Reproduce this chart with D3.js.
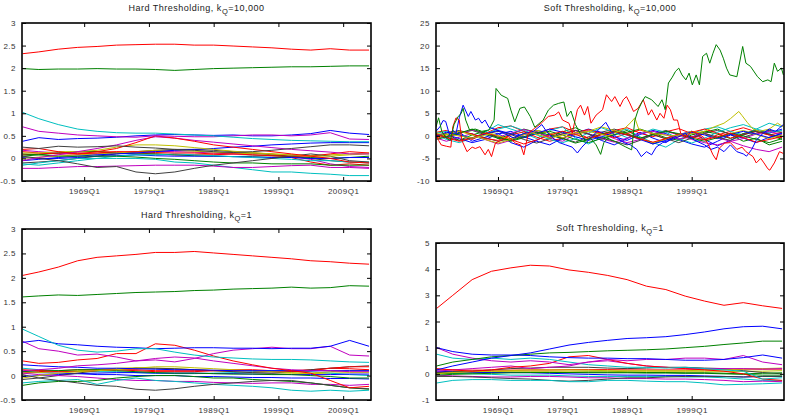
<!DOCTYPE html>
<html><head><meta charset="utf-8">
<script src="https://cdn.jsdelivr.net/npm/d3@7"></script>
<style>
html,body{margin:0;padding:0;background:#fff;}
svg{display:block;font-family:"Liberation Sans",Arial,sans-serif;}
</style></head>
<body><svg id="chart" width="789" height="418"></svg>
<script>
// ---------------- DATA ----------------
const quarterLabels = ["1969Q1","1979Q1","1989Q1","1999Q1","2009Q1"];
const quarterYears  = [1969, 1979, 1989, 1999, 2009];
const hardYTicks = [-0.5, 0, 0.5, 1, 1.5, 2, 2.5, 3];
const soft1e4YTicks = [-10, -5, 0, 5, 10, 15, 20, 25];
const soft1YTicks = [-1, 0, 1, 2, 3, 4, 5];

// 3-year sampling grid used by the smooth panels
const grid3 = [1959.5,1962,1965,1968,1971,1974,1977,1980,1983,1986,1989,1992,1995,1998,2001,2004,2007,2010,2013];
// 2-year sampling grid used by the background lines of the soft k=10,000 panel
const grid2 = [1959.5,1961,1963,1965,1967,1969,1971,1973,1975,1977,1979,1981,1983,1985,1987,1989,1991,1993,1995,1997,1999,2001,2003,2005,2007,2009,2011,2013];

// Panel 1: Hard Thresholding, kQ = 10,000
const hard1e4Colors = "rgcmbkrmykmcgbrcybgkmr";
const hard1e4 = [
 [2.32,2.36,2.42,2.46,2.48,2.51,2.52,2.53,2.53,2.51,2.51,2.49,2.47,2.45,2.42,2.40,2.43,2.40,2.40],
 [1.99,1.97,1.98,1.98,1.99,1.98,1.98,1.97,1.95,1.97,1.99,2.00,2.01,2.02,2.03,2.03,2.04,2.05,2.05],
 [1.02,0.88,0.75,0.65,0.60,0.57,0.56,0.56,0.54,0.52,0.50,0.47,0.44,0.42,0.40,0.39,0.38,0.37,0.37],
 [0.70,0.60,0.56,0.52,0.50,0.48,0.47,0.50,0.49,0.48,0.48,0.50,0.52,0.52,0.50,0.52,0.57,0.43,0.42],
 [0.38,0.46,0.42,0.44,0.45,0.47,0.50,0.52,0.53,0.52,0.51,0.52,0.50,0.50,0.52,0.55,0.62,0.56,0.53],
 [0.25,0.22,0.27,0.25,0.26,0.28,0.25,0.23,0.20,0.18,0.15,0.13,0.15,0.18,0.22,0.26,0.30,0.30,0.28],
 [0.20,0.22,0.15,0.10,0.15,0.22,0.35,0.50,0.45,0.38,0.30,0.25,0.20,0.15,0.10,0.05,0.00,-0.08,-0.10],
 [-0.05,0.02,0.08,0.15,0.22,0.30,0.40,0.48,0.45,0.40,0.36,0.32,0.28,0.24,0.20,0.17,0.14,0.10,0.10],
 [0.12,0.12,0.15,0.15,0.18,0.25,0.30,0.30,0.28,0.24,0.20,0.16,0.13,0.10,0.08,0.05,0.05,0.08,0.10],
 [0.05,0.00,-0.05,-0.12,-0.20,-0.18,-0.30,-0.34,-0.30,-0.22,-0.15,-0.10,-0.05,0.00,0.05,0.10,0.05,-0.05,-0.08],
 [-0.22,-0.22,-0.20,-0.18,-0.18,-0.17,-0.16,-0.15,-0.15,-0.15,-0.17,-0.20,-0.20,-0.18,-0.16,-0.15,-0.20,-0.20,-0.22],
 [-0.15,-0.10,-0.05,0.00,0.00,0.00,0.00,-0.02,-0.08,-0.10,-0.15,-0.20,-0.25,-0.30,-0.30,-0.33,-0.35,-0.38,-0.38],
 [0.10,0.08,0.05,0.05,0.05,0.05,0.03,0.00,-0.02,-0.05,-0.08,-0.10,-0.10,-0.12,-0.12,-0.12,-0.15,-0.15,-0.15],
 [-0.05,-0.02,0.02,0.05,0.08,0.10,0.12,0.15,0.18,0.20,0.22,0.25,0.27,0.30,0.32,0.34,0.35,0.35,0.35],
 [0.15,0.12,0.10,0.10,0.12,0.15,0.15,0.13,0.12,0.12,0.10,0.10,0.08,0.06,0.05,0.05,0.10,0.15,0.12],
 [-0.12,-0.15,-0.10,-0.05,0.00,0.05,0.08,0.08,0.10,0.08,0.06,0.04,0.02,0.00,-0.02,-0.05,-0.05,-0.08,-0.08],
 [0.00,0.03,0.05,0.08,0.10,0.12,0.15,0.18,0.18,0.16,0.14,0.12,0.10,0.10,0.08,0.06,0.08,0.10,0.12],
 [0.02,0.00,0.00,0.02,0.05,0.06,0.08,0.06,0.05,0.05,0.05,0.04,0.03,0.02,0.02,0.00,0.00,0.02,0.02],
 [0.05,0.08,0.12,0.15,0.15,0.12,0.10,0.10,0.08,0.06,0.05,0.04,0.05,0.06,0.04,0.02,0.00,0.02,0.05],
 [-0.10,-0.08,-0.05,0.00,0.05,0.10,0.15,0.18,0.20,0.20,0.18,0.15,0.12,0.08,0.05,0.00,-0.05,-0.08,-0.10],
 [0.18,0.15,0.12,0.10,0.10,0.12,0.14,0.16,0.15,0.14,0.12,0.10,0.08,0.06,0.04,-0.02,-0.12,-0.18,-0.20],
 [0.08,0.10,0.12,0.14,0.15,0.14,0.12,0.10,0.08,0.08,0.08,0.10,0.12,0.10,0.02,-0.08,-0.15,-0.12,-0.15]
];

// Panel 3: Hard Thresholding, kQ = 1
const hard1Colors = "rgcbmrmbkcgymrgkbcyrb";
const hard1 = [
 [2.05,2.12,2.22,2.35,2.42,2.45,2.48,2.52,2.52,2.54,2.51,2.48,2.45,2.42,2.39,2.35,2.33,2.30,2.28],
 [1.61,1.63,1.65,1.64,1.66,1.68,1.70,1.71,1.72,1.74,1.75,1.77,1.78,1.79,1.81,1.79,1.80,1.84,1.83],
 [0.95,0.80,0.62,0.52,0.48,0.50,0.55,0.55,0.48,0.42,0.38,0.36,0.34,0.33,0.33,0.32,0.30,0.28,0.27],
 [0.68,0.72,0.65,0.63,0.60,0.58,0.57,0.55,0.56,0.57,0.57,0.56,0.56,0.55,0.56,0.56,0.60,0.72,0.60],
 [0.70,0.55,0.50,0.42,0.44,0.38,0.30,0.32,0.28,0.35,0.45,0.52,0.55,0.58,0.55,0.55,0.60,0.42,0.40],
 [0.30,0.25,0.27,0.32,0.35,0.45,0.45,0.65,0.62,0.52,0.40,0.30,0.22,0.15,0.10,0.05,-0.10,-0.25,-0.22],
 [0.10,0.12,0.15,0.20,0.22,0.25,0.30,0.35,0.38,0.36,0.30,0.25,0.20,0.15,0.12,0.10,0.10,0.08,0.08],
 [0.22,0.20,0.18,0.17,0.15,0.15,0.14,0.13,0.12,0.12,0.11,0.10,0.10,0.10,0.10,0.10,0.10,0.10,0.10],
 [0.02,-0.05,-0.10,-0.15,-0.20,-0.22,-0.28,-0.30,-0.27,-0.22,-0.18,-0.15,-0.12,-0.10,-0.10,-0.15,-0.20,-0.25,-0.27],
 [-0.15,-0.12,-0.10,-0.08,-0.18,-0.10,-0.05,-0.10,-0.12,-0.15,-0.18,-0.20,-0.22,-0.25,-0.30,-0.32,-0.30,-0.32,-0.30],
 [-0.20,-0.15,-0.12,-0.12,-0.10,-0.05,-0.02,0.00,0.00,-0.02,-0.05,-0.05,-0.08,-0.10,-0.12,-0.15,-0.20,-0.25,-0.28],
 [-0.05,0.00,0.05,0.08,0.10,0.12,0.15,0.18,0.18,0.16,0.14,0.12,0.10,0.08,0.06,0.05,0.08,0.10,0.10],
 [0.05,0.02,0.00,-0.02,-0.05,-0.08,-0.10,-0.10,-0.12,-0.12,-0.14,-0.15,-0.16,-0.15,-0.15,-0.18,-0.18,-0.20,-0.18],
 [0.12,0.10,0.08,0.08,0.10,0.12,0.12,0.10,0.10,0.10,0.10,0.10,0.10,0.08,0.08,0.10,0.15,0.18,0.18],
 [0.08,0.10,0.10,0.12,0.12,0.10,0.08,0.06,0.05,0.05,0.04,0.03,0.03,0.02,0.02,0.00,-0.02,-0.05,-0.05],
 [-0.08,-0.05,0.00,0.05,0.10,0.12,0.15,0.15,0.14,0.12,0.10,0.08,0.06,0.05,0.08,0.12,0.15,0.18,0.20],
 [-0.02,0.00,0.02,0.04,0.05,0.06,0.06,0.05,0.05,0.05,0.04,0.04,0.03,0.03,0.02,0.02,0.02,0.03,0.03],
 [0.15,0.12,0.10,0.08,0.08,0.08,0.06,0.05,0.04,0.04,0.05,0.06,0.08,0.10,0.10,0.08,0.05,0.02,0.00],
 [0.05,0.06,0.08,0.10,0.12,0.15,0.16,0.15,0.14,0.12,0.10,0.08,0.06,0.05,0.05,0.04,0.05,0.06,0.06],
 [0.05,0.08,0.10,0.12,0.12,0.12,0.10,0.08,0.08,0.08,0.10,0.12,0.12,0.10,0.10,0.12,0.15,0.14,0.12],
 [0.08,0.06,0.05,0.04,0.02,0.02,0.00,0.00,0.00,-0.02,-0.02,-0.03,-0.04,-0.04,-0.05,-0.05,-0.06,-0.06,-0.07]
];

// Panel 4: Soft Thresholding, kQ = 1
const soft1Colors = "rbgbmcrmckygkbrmygc";
const soft1 = [
 [2.50,3.00,3.60,3.92,4.05,4.15,4.12,3.97,3.88,3.76,3.60,3.35,3.22,2.97,2.78,2.62,2.72,2.60,2.50],
 [0.15,0.30,0.45,0.60,0.70,0.80,0.95,1.10,1.20,1.28,1.35,1.38,1.42,1.50,1.60,1.72,1.80,1.82,1.72],
 [0.30,0.45,0.55,0.65,0.70,0.75,0.80,0.82,0.85,0.88,0.90,0.92,0.95,1.00,1.05,1.12,1.18,1.25,1.25],
 [1.00,0.85,0.75,0.72,0.72,0.70,0.65,0.62,0.60,0.60,0.58,0.58,0.55,0.52,0.52,0.55,0.62,0.72,0.60],
 [1.00,0.75,0.60,0.50,0.45,0.50,0.45,0.35,0.45,0.55,0.50,0.55,0.55,0.60,0.60,0.55,0.70,0.45,0.35],
 [0.75,0.60,0.55,0.60,0.55,0.60,0.55,0.45,0.35,0.30,0.25,0.25,0.22,0.25,0.20,0.15,0.10,-0.20,-0.15],
 [0.20,0.15,0.10,0.15,0.25,0.30,0.40,0.65,0.70,0.55,0.40,0.30,0.25,0.20,0.15,0.10,0.00,-0.20,-0.25],
 [0.10,0.15,0.20,0.25,0.30,0.20,0.25,0.30,0.45,0.50,0.40,0.30,0.25,0.20,0.20,0.20,0.20,0.18,0.20],
 [-0.35,-0.25,-0.22,-0.22,-0.25,-0.25,-0.25,-0.30,-0.30,-0.25,-0.25,-0.28,-0.30,-0.30,-0.35,-0.42,-0.40,-0.38,-0.35],
 [-0.10,-0.10,-0.12,-0.15,-0.18,-0.20,-0.25,-0.28,-0.25,-0.20,-0.15,-0.15,-0.12,-0.10,-0.10,-0.10,-0.12,-0.10,-0.10],
 [0.00,0.05,0.08,0.10,0.12,0.15,0.15,0.15,0.14,0.12,0.12,0.12,0.12,0.12,0.14,0.15,0.18,0.20,0.22],
 [-0.05,-0.02,0.00,0.02,0.04,0.05,0.05,0.05,0.06,0.06,0.06,0.05,0.05,0.04,0.04,0.02,0.00,0.02,0.04],
 [0.05,0.08,0.10,0.15,0.20,0.22,0.25,0.25,0.25,0.22,0.20,0.22,0.25,0.25,0.22,0.20,0.12,0.05,0.00],
 [0.10,0.08,0.06,0.05,0.05,0.04,0.02,0.00,-0.02,-0.04,-0.05,-0.05,-0.06,-0.06,-0.08,-0.10,-0.12,-0.10,-0.10],
 [0.15,0.15,0.14,0.14,0.14,0.15,0.15,0.16,0.16,0.16,0.15,0.15,0.15,0.15,0.16,0.16,0.18,0.18,0.18],
 [-0.05,-0.08,-0.10,-0.12,-0.12,-0.10,-0.10,-0.12,-0.15,-0.15,-0.18,-0.18,-0.20,-0.20,-0.22,-0.25,-0.30,-0.28,-0.30],
 [0.05,0.06,0.08,0.08,0.10,0.10,0.10,0.10,0.10,0.10,0.08,0.08,0.08,0.08,0.08,0.08,0.10,0.10,0.12],
 [0.00,0.02,0.04,0.05,0.06,0.06,0.06,0.05,0.04,0.04,0.04,0.03,0.03,0.02,0.02,0.00,-0.02,-0.05,-0.05],
 [0.05,0.02,0.00,-0.02,-0.05,-0.05,-0.05,-0.08,-0.10,-0.10,-0.10,-0.10,-0.10,-0.12,-0.12,-0.15,-0.20,-0.25,-0.25]
];

// Panel 2: Soft Thresholding, kQ = 10,000 -- background lines on the 2-year grid
const soft1e4NoiseColors = "bgrcmkbgrcmykbgr";
const soft1e4Noise = [
 [0.5,-0.5,0.8,-1.2,-0.3,0.6,-1.5,-2.5,-1.0,0.5,-0.8,1.2,0.4,-1.0,-2.0,-0.6,0.8,-0.5,-1.5,0.3,1.0,-0.8,-2.2,-1.0,0.5,1.2,0.6,1.5],
 [-0.3,0.4,-1.0,0.2,1.0,-0.6,0.3,1.5,0.8,-0.4,0.9,1.8,0.5,-0.8,0.2,1.2,-0.5,-1.8,-0.6,0.4,-0.3,0.8,1.5,0.3,-1.2,-0.5,-2.0,-1.2],
 [0.8,1.2,0.2,-0.8,0.5,1.8,2.2,1.0,0.3,1.5,2.0,0.8,-0.5,0.4,1.2,1.8,0.6,-0.2,0.9,1.6,0.5,-0.8,0.2,1.0,1.8,0.9,0.2,0.8],
 [0.2,-0.8,-1.5,-0.5,0.8,2.5,1.5,0.6,-0.6,1.2,2.0,-0.5,-1.8,-0.4,0.8,1.5,-0.2,-1.5,-2.5,-0.8,0.5,1.5,2.0,1.0,0.2,1.5,2.8,2.0],
 [-0.5,-1.2,-0.3,0.5,-0.8,-1.8,-1.0,0.2,1.0,-0.5,-1.2,0.3,1.2,0.5,-0.6,-1.5,-0.8,0.4,1.0,0.2,-0.8,-1.5,-2.0,-1.2,-2.2,-3.0,-3.5,-2.5],
 [0.0,0.6,1.2,0.4,-0.4,-1.2,-0.6,0.5,1.2,0.6,-0.5,-1.4,-0.2,0.8,1.5,0.5,-0.6,0.4,1.2,0.3,-0.5,0.6,1.2,0.4,-0.3,0.6,1.2,0.8],
 [-0.2,0.3,-0.6,-1.5,-0.8,0.4,1.0,-0.2,-1.2,-2.0,-0.5,0.6,1.5,0.8,-0.2,-1.0,0.3,1.2,0.5,-0.8,-1.8,-2.5,-1.2,0.2,-0.5,-1.5,-0.3,0.5],
 [0.4,-0.2,0.6,1.2,0.3,-0.5,-1.2,-0.4,0.5,1.0,0.2,-0.8,-1.5,-0.6,0.3,0.8,1.5,0.6,-0.4,-1.0,0.2,1.0,0.4,-0.6,0.5,1.2,0.3,-0.8],
 [-0.6,0.2,1.0,0.4,-0.6,-1.0,0.2,0.9,-0.3,-1.2,-0.5,0.7,1.4,0.6,-0.4,0.5,1.3,0.4,-0.7,-0.2,0.8,1.5,0.6,-0.5,0.3,1.0,0.2,-0.4],
 [0.6,1.0,0.3,-0.5,0.4,1.5,2.2,1.2,0.2,-0.8,-1.5,-0.6,0.6,1.8,0.8,-0.4,0.4,1.5,0.8,-0.6,-1.6,-0.5,0.8,1.8,2.5,1.5,0.8,1.2],
 [0.2,-0.4,0.5,1.3,0.5,-0.3,0.6,1.4,0.8,-0.2,0.4,1.2,0.5,-0.6,-1.4,-0.5,0.5,1.0,0.2,-0.7,-0.2,0.6,-0.4,-1.2,-0.6,0.4,1.0,0.3],
 [-0.4,0.3,1.0,0.2,-0.8,-1.6,-0.8,0.3,1.2,0.6,-0.4,0.2,1.0,2.0,1.2,0.3,-0.6,-1.5,-0.8,0.2,1.0,0.4,-0.5,0.5,1.2,0.3,-0.6,0.2],
 [0.3,-0.3,-1.0,-0.4,0.4,1.0,0.3,-0.8,-1.6,-0.6,0.5,1.2,0.4,-0.4,-1.2,-2.0,-1.0,0.2,-0.6,-1.5,-0.5,0.5,-0.3,-1.0,0.2,1.0,0.4,-0.2],
 [0.0,0.8,0.2,-0.6,0.4,1.2,0.5,-0.4,0.6,1.5,0.8,-0.2,-1.0,-0.2,0.8,0.2,-0.8,-1.8,-1.0,0.2,0.8,0.2,-0.6,0.3,1.0,0.4,-0.4,0.6],
 [-0.8,-0.2,0.6,1.5,0.6,-0.3,-1.0,-0.2,0.8,0.2,-0.6,-1.6,-0.8,0.4,1.0,0.3,-0.5,0.3,1.0,0.5,-0.5,-1.2,-0.4,0.6,0.0,-0.8,-1.5,-0.6],
 [0.4,-0.4,-1.2,-0.5,0.6,0.0,-0.8,-1.8,-0.9,0.2,1.0,0.3,-0.6,0.2,0.9,0.2,-0.7,-1.4,-0.6,0.4,-0.2,-0.9,-0.2,0.6,-0.4,-1.4,-0.8,-0.2]
];
// Panel 2: the large-swing series, read as [year, value] pairs
const soft1e4Yellow = [[1959.4,0.5],[1962,0.2],[1965,-0.5],[1968,0.5],[1971,-0.8],[1974,0.8],[1977,-0.5],[1980,0.5],[1983,1.0],[1986,0.0],[1988.5,1.5],[1989.6,3.0],[1990.2,4.0],[1990.8,1.5],[1993,0.5],[1996,0.0],[1999,0.5],[2001,1.0],[2002.5,2.0],[2004,2.8],[2005,3.8],[2006.3,5.4],[2006.8,4.5],[2007.6,3.0],[2008.5,1.5],[2009.5,1.0],[2011,1.5],[2012.3,2.8],[2013.2,2.0]];
const soft1e4Blue = [[1959.4,1.0],[1960.0,2.0],[1960.5,3.4],[1960.9,3.2],[1961.5,0.2],[1962.0,1.3],[1962.5,0.5],[1963.0,4.0],[1963.6,6.8],[1964.4,4.3],[1964.8,5.4],[1965.5,3.5],[1966.0,3.9],[1966.5,2.8],[1967.0,3.5],[1967.6,1.9],[1968.5,1.5],[1970.0,0.5],[1971.5,-0.5],[1973.0,0.5],[1974.5,1.0],[1975.8,2.5],[1976.5,1.0],[1977.5,-0.5],[1978.5,-1.5],[1979.5,-2.0],[1980.5,-2.5],[1981.3,-3.8],[1982.0,-2.5],[1983.0,-1.0],[1984.0,0.5],[1985.0,2.0],[1985.7,3.0],[1986.5,1.0],[1987.5,-0.5],[1988.5,-1.5],[1989.5,-2.0],[1990.5,-3.0],[1991.2,-4.6],[1992.0,-3.5],[1992.8,-4.2],[1993.5,-2.5],[1994.5,-1.5],[1995.5,-1.0],[1996.5,-0.5],[1998.0,0.5],[1999.5,-1.0],[2001.0,-2.0],[2002.0,-3.0],[2003.0,-2.5],[2004.0,-3.5],[2005.0,-2.0],[2006.0,-3.5],[2007.0,-4.0],[2007.5,-4.5],[2008.3,-3.0],[2009.0,-1.0],[2010.0,0.5],[2011.0,1.5],[2012.0,1.0],[2013.2,2.5]];
const soft1e4Red = [[1959.4,0.5],[1959.8,-1.0],[1960.2,-2.0],[1961.0,-2.3],[1961.7,-2.5],[1962.0,2.0],[1962.5,4.0],[1963.0,3.5],[1963.4,-1.0],[1964.2,-3.5],[1965.0,-2.5],[1965.5,-2.8],[1966.2,-2.4],[1967.0,-4.2],[1967.5,-3.0],[1968.0,-4.6],[1968.6,-1.6],[1969.6,-0.9],[1970.6,-0.2],[1971.7,-1.6],[1972.5,-2.0],[1973.0,-4.2],[1973.7,0.6],[1974.7,1.7],[1975.7,2.8],[1976.8,4.3],[1977.8,4.6],[1978.4,5.3],[1979.0,3.5],[1980.0,2.8],[1980.5,0.6],[1981.3,5.8],[1981.8,6.8],[1982.4,4.6],[1982.9,6.5],[1983.4,2.8],[1984.2,4.6],[1985.2,5.8],[1985.8,9.1],[1986.6,7.6],[1987.1,8.7],[1987.9,6.5],[1988.4,8.0],[1988.9,8.7],[1989.4,7.3],[1990.0,5.4],[1990.7,6.1],[1991.5,8.0],[1992.3,4.6],[1992.8,5.8],[1993.6,3.5],[1994.1,5.0],[1994.7,3.9],[1995.2,6.8],[1995.7,5.8],[1996.2,3.5],[1996.8,3.5],[1997.3,0.6],[1998.0,-0.5],[1999.0,1.0],[2000.0,0.5],[2001.0,-0.5],[2001.6,-2.0],[2002.3,-4.2],[2002.8,-5.3],[2003.3,-2.7],[2004.1,-1.6],[2005.0,-1.5],[2006.0,-3.0],[2006.8,-2.5],[2007.4,-3.5],[2008.5,-4.6],[2009.0,-6.0],[2009.7,-5.0],[2010.2,-6.0],[2010.8,-7.3],[2011.1,-7.6],[2011.8,-6.0],[2012.6,-3.5],[2013.2,-3.9]];
const soft1e4Green = [[1959.4,2.0],[1959.8,4.0],[1960.3,1.0],[1961.0,-0.5],[1961.6,-1.0],[1962.2,2.5],[1962.8,4.2],[1963.3,5.0],[1963.6,6.1],[1964.0,3.5],[1964.6,1.3],[1965.5,1.5],[1966.5,1.0],[1967.6,1.3],[1968.4,3.5],[1968.7,10.5],[1969.5,9.0],[1970.5,8.3],[1971.0,5.7],[1971.6,3.1],[1972.4,6.1],[1973.1,6.4],[1974.0,4.3],[1974.7,1.9],[1976.0,3.5],[1976.8,5.7],[1977.6,6.8],[1978.4,7.2],[1979.2,7.5],[1979.7,4.3],[1980.3,5.5],[1981.0,2.5],[1981.7,0.6],[1982.5,-1.0],[1983.3,-0.5],[1984.2,-2.0],[1984.9,-4.1],[1985.4,-1.5],[1986.0,-0.5],[1986.6,-0.9],[1987.5,-1.5],[1988.7,-2.4],[1989.7,-3.1],[1990.2,3.5],[1990.7,5.7],[1991.3,7.5],[1991.8,8.7],[1992.8,8.0],[1993.8,6.5],[1994.4,8.0],[1994.9,5.8],[1995.4,11.7],[1996.0,13.0],[1996.5,14.3],[1997.0,15.0],[1997.5,13.5],[1998.1,12.4],[1998.6,13.9],[1999.1,11.3],[1999.7,13.5],[2000.2,11.3],[2000.7,17.6],[2001.3,18.3],[2001.8,16.1],[2002.3,18.3],[2002.8,20.2],[2003.4,19.0],[2003.9,17.2],[2004.4,15.0],[2004.9,13.5],[2006.0,13.1],[2006.5,16.8],[2006.9,19.8],[2007.4,16.1],[2008.1,15.4],[2009.2,13.1],[2010.0,12.0],[2010.8,12.4],[2011.3,12.0],[2011.8,16.1],[2012.3,14.3],[2012.9,15.0],[2013.2,13.5]];

// ---------------- DRAWING ----------------
const COLORS = {b:"#0000ff", g:"#008000", r:"#ff0000", c:"#00bfbf", m:"#bf00bf", y:"#bfbf00", k:"#404040"};
const svg = d3.select("#chart");
const xDomain = [1959.4, 2013.3];

function onGrid(grid, vals){ return vals.map((v,i)=>[grid[i], v]); }

function panel(o){
  const x = d3.scaleLinear().domain(xDomain).range([o.left, o.right]);
  const y = d3.scaleLinear().domain(o.yDomain).range([o.bottom, o.top]);
  const g = svg.append("g");
  const id = "clip" + o.id;
  svg.append("clipPath").attr("id", id).append("rect")
     .attr("x", o.left).attr("y", o.top).attr("width", o.right-o.left).attr("height", o.bottom-o.top);
  const line = d3.line().x(d=>x(d[0])).y(d=>y(d[1]));
  const lines = g.append("g").attr("clip-path", `url(#${id})`);
  o.series.forEach(s=>{
    lines.append("path").attr("d", line(s.pts)).attr("fill","none")
      .attr("stroke", COLORS[s.c]).attr("stroke-width", 1).attr("stroke-linejoin","round");
  });
  const xt = o.xTicks, xl = o.xLabels;
  const fmtX = d => xl[xt.indexOf(d)];
  const ax = [
    d3.axisBottom(x).tickValues(xt).tickFormat(fmtX).tickSize(-4).tickPadding(7),
    d3.axisTop(x).tickValues(xt).tickFormat("").tickSize(-4),
    d3.axisLeft(y).tickValues(o.yTicks).tickFormat(d=>String(d)).tickSize(-4).tickPadding(6),
    d3.axisRight(y).tickValues(o.yTicks).tickFormat("").tickSize(-4)
  ];
  const pos = [`translate(0,${o.bottom})`, `translate(0,${o.top})`, `translate(${o.left},0)`, `translate(${o.right},0)`];
  ax.forEach((a,i)=>{
    const ag = g.append("g").attr("transform", pos[i]).call(a);
    ag.select(".domain").remove();
    ag.selectAll("line").attr("stroke","#000").attr("stroke-width",1);
    ag.selectAll("text").attr("fill","#333").style("font-size","8px").style("letter-spacing","0.5px")
      .style("font-family",'"Liberation Sans",Arial,sans-serif');
  });
  g.append("rect").attr("x", o.left).attr("y", o.top).attr("width", o.right-o.left).attr("height", o.bottom-o.top)
    .attr("fill","none").attr("stroke","#000").attr("stroke-width",1.6);
  const t = g.append("text").attr("x", (o.left+o.right)/2).attr("y", o.titleY).attr("text-anchor","middle")
    .attr("fill","#222").style("font-size","9px").style("letter-spacing","0.5px");
  t.append("tspan").text(o.title);
  t.append("tspan").attr("dy", 3).style("font-size","7.5px").text("Q");
  t.append("tspan").attr("dy", -3).text(o.titleTail);
}

const soft1e4Series = soft1e4Noise.map((v,i)=>({c: soft1e4NoiseColors[i], pts: onGrid(grid2, v)}))
  .concat([
    {c:"y", pts: soft1e4Yellow},
    {c:"b", pts: soft1e4Blue},
    {c:"r", pts: soft1e4Red},
    {c:"g", pts: soft1e4Green}
  ]);

panel({id:1, left:22, right:371, top:23, bottom:181, yDomain:[-0.5,3], yTicks:hardYTicks,
  xTicks:quarterYears, xLabels:quarterLabels, title:"Hard Thresholding, k", titleTail:"=10,000", titleY:11,
  series: hard1e4.map((v,i)=>({c: hard1e4Colors[i], pts: onGrid(grid3, v)})).reverse()});
panel({id:2, left:436, right:784, top:23, bottom:181, yDomain:[-10,25], yTicks:soft1e4YTicks,
  xTicks:quarterYears.slice(0,4), xLabels:quarterLabels.slice(0,4), title:"Soft Thresholding, k", titleTail:"=10,000", titleY:11,
  series: soft1e4Series});
panel({id:3, left:22, right:371, top:229, bottom:400, yDomain:[-0.5,3], yTicks:hardYTicks,
  xTicks:quarterYears, xLabels:quarterLabels, title:"Hard Thresholding, k", titleTail:"=1", titleY:218,
  series: hard1.map((v,i)=>({c: hard1Colors[i], pts: onGrid(grid3, v)})).reverse()});
panel({id:4, left:436, right:784, top:243, bottom:400, yDomain:[-1,5], yTicks:soft1YTicks,
  xTicks:quarterYears.slice(0,4), xLabels:quarterLabels.slice(0,4), title:"Soft Thresholding, k", titleTail:"=1", titleY:231,
  series: soft1.map((v,i)=>({c: soft1Colors[i], pts: onGrid(grid3, v)})).reverse()});
</script>
</body></html>
